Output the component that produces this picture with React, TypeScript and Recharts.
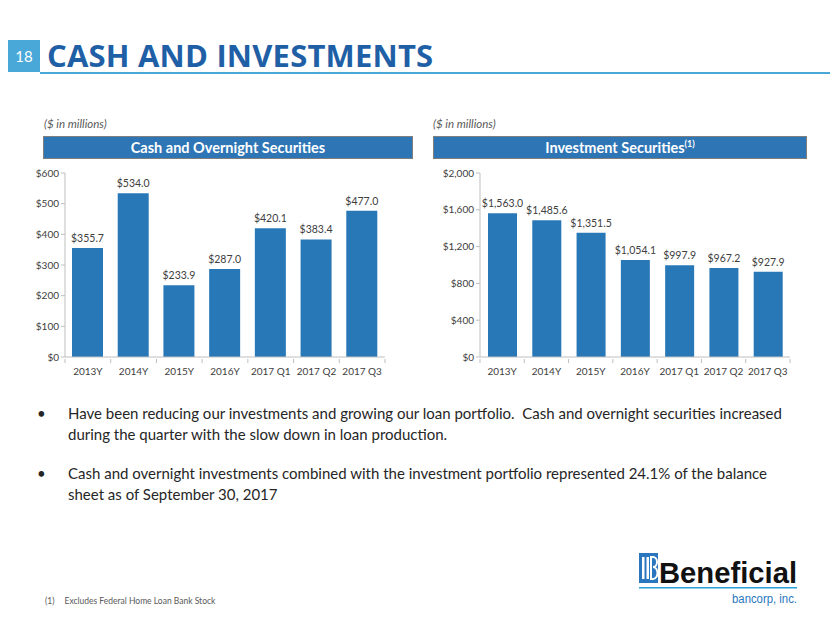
import { BarChart, Bar, XAxis, YAxis, LabelList } from 'recharts'

const periods = ['2013Y', '2014Y', '2015Y', '2016Y', '2017 Q1', '2017 Q2', '2017 Q3']
const cashValues = [355.7, 534.0, 233.9, 287.0, 420.1, 383.4, 477.0]
const investValues = [1563.0, 1485.6, 1351.5, 1054.1, 997.9, 967.2, 927.9]
const cashTicks = [0, 100, 200, 300, 400, 500, 600]
const investTicks = [0, 400, 800, 1200, 1600, 2000]

const BAR = '#2878b8'
const FONT = 'Lato, "Open Sans", sans-serif'
const AXIS = '#bfbfbf'
const TEXT = '#404040'

const cashData = periods.map((p, i) => ({ period: p, value: cashValues[i] }))
const investData = periods.map((p, i) => ({ period: p, value: investValues[i] }))

const money = (v: number, dec: number) =>
  '$' + v.toLocaleString('en-US', { minimumFractionDigits: dec, maximumFractionDigits: dec })

function Header({ x, w, children }: { x: number; w: number; children: any }) {
  return (
    <div style={{
      position: 'absolute', left: x, top: 136, width: w, height: 23, background: '#2e75b6',
      border: '1px solid #7f7f7f', boxSizing: 'border-box', color: '#fff', fontFamily: FONT,
      fontWeight: 700, fontSize: 14.5, textAlign: 'center', lineHeight: '21px',
    }}>{children}</div>
  )
}

// category label plus a small tick mark on the band boundary, like the original
const BandTick = ({ x, y, payload, band, last }: any) => (
  <g>
    <line x1={x - band / 2} x2={x - band / 2} y1={y - 8} y2={y - 4} stroke={AXIS} />
    {payload.index === last && <line x1={x + band / 2} x2={x + band / 2} y1={y - 8} y2={y - 4} stroke={AXIS} />}
    <text x={x} y={y + 8} textAnchor="middle" fill={TEXT} fontSize={10} fontFamily={FONT}>{payload.value}</text>
  </g>
)

function Chart({ data, ticks, max, left, width, bar, fmt }: any) {
  const band = (width - 55) / data.length
  return (
    <div style={{ position: 'absolute', left, top: 160 }}>
      <BarChart width={width} height={222} data={data} margin={{ top: 13, right: 10, left: 0, bottom: 0 }}>
        <XAxis dataKey="period" stroke={AXIS} tickLine={false} height={25} interval={0}
          tick={<BandTick band={band} last={data.length - 1} />} tickMargin={4} />
        <YAxis domain={[0, max]} ticks={ticks} width={45} stroke={AXIS} tickSize={4}
          tick={{ fill: TEXT, fontSize: 10, fontFamily: FONT }} tickFormatter={(v: number) => money(v, 0)} />
        <Bar dataKey="value" fill={BAR} barSize={bar} isAnimationActive={false}>
          <LabelList dataKey="value" position="top" offset={6}
            style={{ fill: TEXT, fontSize: 10.5, fontFamily: FONT }} formatter={fmt} />
        </Bar>
      </BarChart>
    </div>
  )
}

export default function App() {
  return (
    <div style={{ position: 'absolute', left: 0, top: 0, width: 830, height: 623, background: '#fff', overflow: 'hidden', fontFamily: FONT }}>
      <div style={{ position: 'absolute', left: 8, top: 40, width: 32, height: 32, background: '#4aa8d8', color: '#fff', fontSize: 15, textAlign: 'center', lineHeight: '32px' }}>18</div>
      <div style={{ position: 'absolute', left: 47, top: 34, fontFamily: '"Open Sans", sans-serif', fontWeight: 700, fontSize: 31, color: '#1f5fa6', letterSpacing: 0.2, whiteSpace: 'nowrap' }}>CASH AND INVESTMENTS</div>
      <div style={{ position: 'absolute', left: 40, top: 72, width: 790, height: 2, background: '#4aa8d8' }} />

      <div style={{ position: 'absolute', left: 44, top: 117, fontSize: 11.5, fontStyle: 'italic', color: '#595959' }}>($ in millions)</div>
      <div style={{ position: 'absolute', left: 433, top: 117, fontSize: 11.5, fontStyle: 'italic', color: '#595959' }}>($ in millions)</div>

      <Header x={43} w={370}>Cash and Overnight Securities</Header>
      <Header x={433} w={374}>Investment Securities<sup style={{ fontSize: 9, verticalAlign: 'top', lineHeight: '14px' }}>(1)</sup></Header>

      <Chart data={cashData} ticks={cashTicks} max={600} left={20} width={375} bar={31} fmt={(v: number) => money(v, 1)} />
      <Chart data={investData} ticks={investTicks} max={2000} left={435} width={365} bar={29} fmt={(v: number) => money(v, 1)} />

      <div style={{ position: 'absolute', left: 37, top: 403, width: 790, fontSize: 15, color: '#262626', lineHeight: '21px', whiteSpace: 'nowrap' }}>
        <div style={{ display: 'flex' }}>
          <span style={{ width: 31 }}>•</span>
          <span>Have been reducing our investments and growing our loan portfolio.&nbsp; Cash and overnight securities increased<br />during the quarter with the slow down in loan production.</span>
        </div>
        <div style={{ display: 'flex', marginTop: 18 }}>
          <span style={{ width: 31 }}>•</span>
          <span>Cash and overnight investments combined with the investment portfolio represented 24.1% of the balance<br />sheet as of September 30, 2017</span>
        </div>
      </div>

      <div style={{ position: 'absolute', left: 45, top: 596, fontSize: 8.5, color: '#595959', whiteSpace: 'nowrap' }}>
        (1)<span style={{ marginLeft: 10 }}>Excludes Federal Home Loan Bank Stock</span>
      </div>

      <svg style={{ position: 'absolute', left: 636, top: 550 }} width={170} height={62}>
        <rect x={3} y={3} width={19} height={30} fill="#2a77c0" />
        <rect x={6} y={7} width={2.5} height={22} fill="#fff" />
        <rect x={10.5} y={7} width={2.5} height={22} fill="#fff" />
        <path d="M15 7 h2 a4 5 0 0 1 0 10 a4.5 6 0 0 1 0 12 h-2 z" fill="none" stroke="#fff" strokeWidth={2} />
        <text x={23} y={33} fontFamily='"Liberation Sans", Arial, sans-serif' fontWeight={700} fontSize={29} textLength={138} lengthAdjust="spacingAndGlyphs" fill="#111">Beneficial</text>
        <rect x={3} y={37} width={158} height={1.5} fill="#2a9fd8" />
        <text x={96} y={53} fontFamily='"Liberation Sans", Arial, sans-serif' fontSize={12.5} textLength={65} lengthAdjust="spacingAndGlyphs" fill="#2a77c0">bancorp, inc.</text>
      </svg>
    </div>
  )
}
